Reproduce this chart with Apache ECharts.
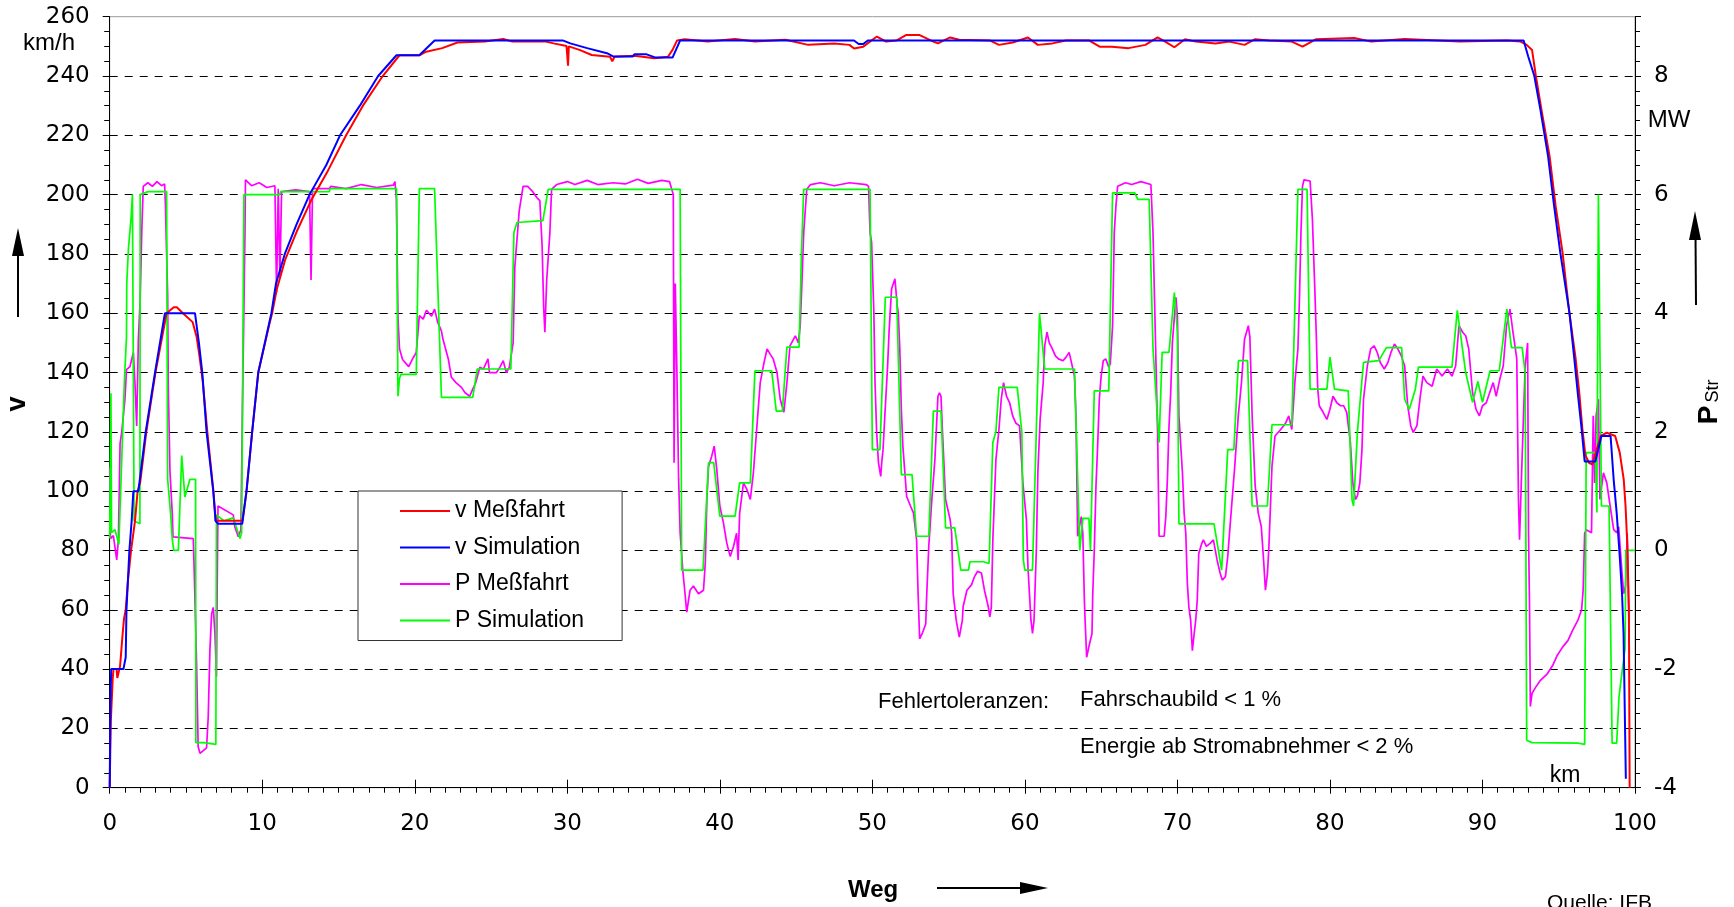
<!DOCTYPE html>
<html><head><meta charset="utf-8">
<script src="https://cdn.jsdelivr.net/npm/echarts/dist/echarts.min.js"></script>
<style>html,body{margin:0;padding:0;background:#fff}#c{width:1734px;height:907px}</style>
</head><body><div id="c"></div>
<script>
const FONT = '"Liberation Sans", Arial, sans-serif';
const NUMFONT = '"DejaVu Sans", "Liberation Sans", sans-serif';

const legendNames = ['v Meßfahrt', 'v Simulation', 'P Meßfahrt', 'P Simulation'];

// v Simulation [km, km/h]
const vSim = [[0,0],[0.05,30],[0.1,40],[0.9,40],[1.05,44],[1.1,60],[1.29,80],[1.44,90],[1.55,100],[1.88,100],[2.36,120],[2.97,140],[3.62,160],[5.59,160],[5.85,150],[6.07,140],[6.35,120],[6.79,100],[6.94,90],[7.1,89],[8.69,89],[8.97,100],[9.34,120],[9.74,140],[10.6,160],[10.9,170],[11.48,180],[12.25,190],[13.1,200],[14.2,210],[15.1,220],[16.4,230],[17.6,240],[18.8,247],[20.3,247],[21.3,252],[29.7,252],[30.2,251],[31.3,249.4],[32.6,247.7],[33.0,246.6],[34.3,246.6],[34.4,247.3],[35.2,247.3],[35.8,246.2],[36.9,246.2],[37.4,252],[48.8,252],[49.1,250.8],[49.4,250.8],[49.7,252],[92.7,252],[93.0,246.6],[93.4,240],[93.8,228.6],[94.3,213],[94.7,196],[95.1,180.5],[95.7,160.3],[96.0,145.7],[96.25,133],[96.5,121],[96.7,110],[97.4,110],[97.8,118.6],[98.4,118.6],[98.6,104],[98.8,92.6],[99.0,78],[99.15,65.5],[99.25,52],[99.4,3]];

// v Meßfahrt [km, km/h]
const vMess = [[0,0],[0.07,22],[0.2,37],[0.25,40],[0.45,40],[0.5,37],[0.63,37],[0.68,41],[0.85,52],[0.94,57],[1.05,60],[1.2,70],[1.4,80],[1.66,90],[1.83,100],[2.0,103],[2.4,120],[3.0,140],[3.73,160],[4.2,162],[4.4,162],[4.8,160],[5.44,157],[5.7,152],[5.9,145],[6.1,137],[6.4,120],[6.8,100],[6.95,90],[7.2,90],[8.7,90],[8.97,100],[9.34,120],[9.74,140],[10.5,157],[10.65,160],[10.95,168],[11.5,178],[12.3,188],[13.2,198],[14.3,208],[15.5,220],[16.6,230],[17.9,240],[19.0,247],[20.3,247],[20.75,248.2],[21.8,249.4],[22.8,251.3],[24.6,251.6],[25.8,252.5],[26.4,251.6],[28.6,251.6],[29.1,251],[29.95,250.1],[30.05,243.5],[30.1,250],[30.8,248.8],[31.6,247.1],[32.8,246.5],[32.95,245],[33.1,246.5],[34.4,246.8],[35.7,246],[36.6,246.5],[36.9,248.8],[37.2,252],[37.7,252.4],[39.2,251.6],[41.0,252.5],[42.3,251.6],[44.3,252.2],[45.8,250.5],[47.5,251],[48.5,250.5],[48.8,249.3],[49.4,249.9],[50.3,253.3],[50.9,251.6],[51.6,252],[52.2,253.8],[53.1,253.8],[54.0,251.6],[54.3,251],[55.1,253],[55.7,252.2],[57.7,252],[58.3,250.5],[59.2,251.3],[60.2,253],[60.85,250.5],[61.8,251],[62.7,252],[64.2,252],[64.9,249.9],[65.7,249.9],[66.8,249.4],[67.9,250.5],[68.7,253],[69.2,251.6],[69.8,249.7],[70.5,252.4],[71.2,251.6],[72.5,251],[73.4,251.6],[74.4,250.5],[75.1,252.4],[76.0,252],[77.5,251.6],[78.2,249.9],[79.1,252.4],[81.6,252.8],[82.7,251.6],[84.9,252.5],[87.1,252],[88.5,251.6],[91.6,252],[92.5,251.6],[92.9,250.5],[93.25,248.8],[93.5,240],[93.9,227.6],[94.4,213],[94.8,196],[95.25,180.5],[95.7,160],[96.1,145],[96.35,133],[96.55,121],[96.75,112],[97.0,109.5],[97.2,109],[97.75,118.6],[98.15,119.7],[98.7,118.6],[99.0,113],[99.26,104],[99.38,95],[99.5,81.4],[99.6,60],[99.65,0]];

// P Simulation [km, MW]
const pSim = [[0,0.2],[0.05,0.2],[0.08,2.65],[0.12,0.3],[0.35,0.35],[0.6,0.1],[0.68,0.1],[0.96,2.83],[1.1,3.6],[1.12,4.5],[1.23,5.1],[1.4,5.6],[1.49,6.0],[1.55,6.0],[1.6,0.5],[1.98,0.45],[2.0,6.0],[2.52,6.05],[3.73,6.05],[3.8,1.2],[4.0,0.6],[4.1,0.2],[4.2,0.0],[4.5,0.0],[4.72,1.6],[4.93,0.9],[5.26,1.2],[5.63,1.2],[5.65,-3.24],[6.18,-3.24],[6.2,-3.27],[6.96,-3.27],[7.0,0.6],[7.5,0.5],[8.1,0.55],[8.54,0.2],[8.65,0.3],[8.8,6.0],[11.16,6.0],[11.2,6.05],[14.4,6.05],[14.45,6.1],[18.8,6.1],[18.9,2.6],[19.0,2.9],[19.1,2.97],[20.1,2.97],[20.3,6.1],[21.3,6.1],[21.75,2.58],[23.8,2.58],[24.1,3.06],[26.3,3.06],[26.5,5.36],[26.7,5.53],[28.4,5.56],[28.75,6.09],[37.4,6.09],[37.5,-0.33],[38.9,-0.33],[39.26,1.48],[39.6,1.48],[40.0,0.58],[41.0,0.58],[41.3,1.14],[42.0,1.14],[42.3,3.03],[43.4,3.03],[43.7,2.35],[44.1,2.35],[44.4,3.43],[45.2,3.43],[45.35,5.0],[45.5,6.09],[49.85,6.09],[50.0,1.7],[50.5,1.7],[50.85,4.27],[51.6,4.27],[51.9,1.28],[52.6,1.28],[52.9,0.24],[53.7,0.24],[54.0,2.35],[54.5,2.35],[54.8,0.38],[55.4,0.38],[55.8,-0.33],[56.3,-0.33],[56.4,-0.19],[57.3,-0.19],[57.65,-0.22],[57.9,1.82],[58.1,2.0],[58.3,2.75],[59.5,2.75],[59.8,2.0],[59.9,-0.16],[60.0,-0.33],[60.5,-0.33],[60.96,4.0],[61.3,3.06],[63.25,3.06],[63.6,0.0],[63.8,0.54],[64.2,0.54],[64.3,0.0],[64.55,2.69],[65.5,2.69],[65.75,6.03],[67.2,6.03],[67.4,5.92],[68.15,5.92],[68.4,3.4],[68.8,1.82],[69.0,3.34],[69.45,3.34],[69.8,4.35],[70.0,3.68],[70.1,0.45],[72.4,0.45],[72.9,-0.33],[73.3,1.7],[73.7,1.7],[74.0,3.2],[74.6,3.2],[74.9,0.75],[75.9,0.75],[76.2,2.12],[77.5,2.12],[77.9,6.09],[78.5,6.09],[78.7,2.72],[79.8,2.72],[80.0,3.26],[80.3,2.72],[81.2,2.69],[81.45,0.85],[81.55,0.75],[81.8,1.99],[82.2,3.17],[83.2,3.2],[83.7,3.42],[84.7,3.42],[84.9,2.55],[85.2,2.38],[85.6,2.72],[85.8,3.09],[88.0,3.09],[88.35,4.05],[88.9,3.0],[89.35,2.5],[89.7,2.85],[90.0,2.5],[90.5,3.03],[91.1,3.03],[91.6,4.07],[91.9,3.42],[92.6,3.42],[92.8,3.0],[92.9,-3.2],[93.25,-3.24],[96.3,-3.25],[96.7,-3.27],[96.8,1.65],[97.4,1.65],[97.5,0.64],[97.6,6.0],[97.7,6.0],[97.8,0.75],[98.3,0.75],[98.5,-3.25],[98.8,-3.25],[98.95,-2.47],[99.15,-2.05],[99.35,-1.65],[99.4,0.0],[100,0.0]];

// P Meßfahrt [km, MW]
const pMess = [[0,1.4],[0.05,0.2],[0.24,0.25],[0.46,-0.16],[0.57,0.18],[0.68,1.8],[0.79,2.0],[1.0,2.55],[1.1,3.05],[1.33,3.1],[1.55,3.34],[1.66,2.8],[1.77,2.1],[1.88,3.56],[2.0,4.24],[2.1,5.36],[2.2,6.14],[2.5,6.2],[2.8,6.14],[3.1,6.22],[3.4,6.15],[3.6,6.18],[3.65,5.86],[3.8,4.3],[3.84,2.8],[3.95,1.34],[4.1,0.63],[4.15,0.23],[5.48,0.2],[5.55,-0.43],[5.7,-1.96],[5.8,-3.31],[5.92,-3.42],[6.35,-3.33],[6.46,-2.8],[6.57,-1.68],[6.68,-1.07],[6.79,-0.96],[6.9,-1.4],[7.0,-2.13],[7.05,-0.5],[7.1,0.75],[7.2,0.72],[8.1,0.6],[8.2,0.4],[8.43,0.23],[8.6,0.35],[8.7,2.33],[8.87,5.36],[8.9,6.25],[9.3,6.15],[9.8,6.2],[10.3,6.12],[10.83,6.15],[10.94,4.35],[11.05,6.1],[11.16,4.6],[11.27,6.05],[12.2,6.08],[13.1,6.05],[13.2,4.56],[13.3,6.1],[14.4,6.1],[14.5,6.14],[15.5,6.1],[16.5,6.17],[17.5,6.12],[18.6,6.16],[18.7,6.22],[18.8,5.92],[18.9,3.93],[19.0,3.4],[19.2,3.22],[19.6,3.1],[19.9,3.25],[20.1,3.34],[20.3,3.96],[20.55,3.9],[20.77,4.05],[21.1,3.95],[21.3,4.07],[21.5,3.85],[21.75,3.7],[21.85,3.56],[22.2,3.23],[22.4,2.92],[22.7,2.83],[23.06,2.75],[23.3,2.66],[23.6,2.6],[23.8,2.72],[24.0,2.83],[24.27,3.09],[24.5,3.06],[24.8,3.23],[24.9,3.0],[25.36,3.0],[25.6,3.1],[25.8,3.2],[26.0,3.0],[26.2,3.09],[26.45,3.5],[26.56,4.78],[26.85,5.73],[27.1,6.14],[27.4,6.14],[27.7,6.06],[28.0,5.95],[28.2,5.9],[28.35,5.13],[28.45,4.12],[28.53,3.68],[28.65,4.56],[28.86,5.36],[28.97,6.09],[29.3,6.17],[30.0,6.22],[30.5,6.17],[31.3,6.24],[32.0,6.17],[33.0,6.2],[33.8,6.18],[34.6,6.26],[35.3,6.19],[36.2,6.24],[36.7,6.22],[36.95,6.0],[37.0,1.48],[37.08,4.5],[37.18,3.11],[37.3,1.19],[37.4,0.29],[37.57,-0.33],[37.72,-0.73],[37.83,-1.04],[38.05,-0.67],[38.27,-0.6],[38.6,-0.73],[38.93,-0.67],[39.05,-0.2],[39.15,0.86],[39.26,1.42],[39.47,1.59],[39.63,1.76],[39.8,1.37],[40.0,0.75],[40.24,0.46],[40.46,0.12],[40.68,-0.1],[40.9,0.07],[41.1,0.29],[41.2,-0.16],[41.3,0.63],[41.55,1.14],[41.77,1.03],[42.0,0.86],[42.2,1.31],[42.4,1.99],[42.65,2.83],[42.9,3.17],[43.1,3.4],[43.3,3.31],[43.5,3.23],[43.75,3.0],[43.96,2.55],[44.2,2.33],[44.4,2.83],[44.6,3.45],[44.95,3.62],[45.15,3.5],[45.27,3.79],[45.38,4.5],[45.5,5.36],[45.7,6.09],[45.95,6.17],[46.6,6.2],[47.5,6.15],[48.5,6.2],[49.6,6.17],[49.75,6.14],[49.85,5.36],[49.95,5.2],[50.1,4.0],[50.17,2.88],[50.28,2.0],[50.4,1.48],[50.55,1.25],[50.62,1.5],[50.7,1.7],[50.83,2.33],[51.0,3.11],[51.1,3.71],[51.26,4.41],[51.48,4.58],[51.63,4.13],[51.7,4.0],[51.8,3.4],[51.9,2.38],[52.0,1.76],[52.25,0.91],[52.5,0.75],[52.7,0.63],[52.9,0.18],[53.0,-0.73],[53.1,-1.49],[53.3,-1.38],[53.5,-1.24],[53.55,-0.84],[53.7,0.07],[53.9,0.86],[54.1,1.53],[54.3,2.6],[54.4,2.66],[54.5,2.6],[54.6,1.99],[54.8,0.86],[55.1,0.52],[55.2,0.29],[55.3,-0.73],[55.4,-0.95],[55.5,-1.18],[55.7,-1.46],[55.9,-1.18],[55.95,-0.95],[56.2,-0.67],[56.5,-0.58],[56.7,-0.44],[56.9,-0.35],[57.15,-0.38],[57.35,-0.67],[57.6,-0.95],[57.7,-1.12],[57.8,-0.96],[57.9,0.18],[58.1,1.53],[58.3,2.04],[58.45,2.55],[58.6,2.83],[58.8,2.6],[59.0,2.49],[59.2,2.27],[59.4,2.15],[59.65,2.1],[59.87,1.14],[60.1,0.52],[60.2,-0.27],[60.3,-0.73],[60.4,-1.18],[60.5,-1.4],[60.6,-1.18],[60.75,0.0],[60.85,1.31],[61.0,2.21],[61.2,2.83],[61.3,3.45],[61.45,3.68],[61.6,3.5],[61.8,3.4],[62.0,3.28],[62.2,3.23],[62.5,3.2],[62.7,3.26],[62.9,3.34],[63.0,3.23],[63.25,2.94],[63.35,2.27],[63.46,0.24],[63.57,0.24],[63.7,0.57],[63.8,0.29],[63.9,-0.84],[63.95,-1.18],[64.05,-1.8],[64.2,-1.62],[64.4,-1.4],[64.45,-0.73],[64.55,0.0],[64.66,1.08],[64.77,1.76],[64.88,2.55],[65.0,2.94],[65.14,3.2],[65.3,3.23],[65.5,3.09],[65.6,3.15],[65.75,3.79],[65.86,5.36],[65.97,5.81],[66.08,6.14],[66.6,6.2],[67.0,6.17],[67.6,6.22],[68.26,6.17],[68.3,6.2],[68.4,5.36],[68.5,4.24],[68.6,3.11],[68.7,1.99],[68.8,0.24],[69.13,0.24],[69.24,0.57],[69.35,1.25],[69.45,2.1],[69.56,2.66],[69.67,3.5],[69.9,4.27],[70.0,3.96],[70.1,2.27],[70.33,1.31],[70.44,0.63],[70.55,0.29],[70.65,-0.55],[70.75,-0.95],[70.87,-1.18],[70.98,-1.69],[71.1,-1.4],[71.2,-1.18],[71.3,-0.84],[71.4,-0.05],[71.6,0.12],[71.7,0.18],[71.9,0.07],[72.14,0.12],[72.36,0.18],[72.6,-0.16],[72.8,-0.38],[72.94,-0.5],[73.15,-0.44],[73.3,-0.1],[73.5,0.57],[73.76,1.42],[73.99,2.27],[74.2,2.83],[74.4,3.56],[74.65,3.79],[74.75,3.6],[74.9,2.27],[75.1,1.08],[75.3,0.63],[75.5,0.4],[75.65,-0.16],[75.77,-0.67],[75.9,-0.4],[76.0,0.07],[76.2,1.42],[76.4,1.93],[76.77,2.04],[77.1,2.15],[77.3,2.27],[77.5,2.04],[77.7,2.83],[77.9,3.4],[78.0,4.24],[78.1,5.36],[78.2,6.14],[78.3,6.25],[78.7,6.23],[78.85,5.59],[79.0,4.47],[79.1,3.68],[79.2,2.72],[79.3,2.44],[79.55,2.33],[79.8,2.21],[80.0,2.38],[80.2,2.6],[80.45,2.49],[80.7,2.44],[80.9,2.44],[81.1,2.33],[81.34,1.82],[81.5,1.14],[81.67,0.86],[81.8,0.92],[81.96,1.14],[82.1,1.7],[82.2,2.55],[82.45,3.11],[82.67,3.4],[82.9,3.45],[83.1,3.34],[83.3,3.17],[83.56,3.06],[83.8,3.17],[84.0,3.34],[84.23,3.48],[84.45,3.4],[84.68,3.28],[84.9,3.11],[85.1,2.44],[85.3,2.1],[85.46,1.99],[85.7,2.1],[85.9,2.55],[86.1,2.94],[86.35,2.83],[86.7,2.77],[87.0,3.06],[87.35,2.94],[87.7,3.06],[88.0,2.94],[88.24,3.11],[88.46,3.79],[88.7,3.68],[88.9,3.62],[89.1,3.4],[89.35,2.66],[89.58,2.38],[89.8,2.27],[90.0,2.44],[90.25,2.49],[90.47,2.66],[90.7,2.83],[90.9,2.6],[91.14,2.89],[91.36,3.11],[91.58,3.79],[91.8,4.07],[92.0,3.68],[92.25,3.23],[92.36,0.86],[92.43,0.18],[92.58,1.42],[92.8,3.11],[92.96,3.5],[93.02,0.29],[93.08,-0.85],[93.14,-2.63],[93.25,-2.41],[93.5,-2.3],[93.8,-2.19],[94.25,-2.08],[94.6,-1.94],[94.9,-1.77],[95.25,-1.63],[95.6,-1.52],[95.9,-1.35],[96.25,-1.18],[96.5,-1.0],[96.6,-0.67],[96.7,0.29],[96.8,0.35],[97.15,0.3],[97.26,2.27],[97.35,1.14],[97.45,2.27],[97.6,2.55],[97.7,0.86],[97.93,1.31],[98.15,1.14],[98.37,0.75],[98.6,0.35],[98.8,0.3],[98.93,0.4],[99.15,-0.38],[99.26,-0.73],[99.38,-0.6],[99.49,0.29],[99.55,-0.5],[99.6,-1.2]];

const chart = echarts.init(document.getElementById('c'), null, {renderer: 'canvas'});
const txt = (x, y, text, extra) => Object.assign({type: 'text', x: x, y: y, z: 100,
  style: Object.assign({text: text, fontSize: 22, fontFamily: FONT, fill: '#000', align: 'left', verticalAlign: 'middle'}, extra || {})});
const rtxt = (x, y, text, extra) => ({type: 'text', x: x, y: y, z: 100, rotation: Math.PI / 2,
  style: Object.assign({text: text, fontSize: 22, fontFamily: FONT, fill: '#000', align: 'center', verticalAlign: 'middle'}, extra || {})});
const tickLab = {fontSize: 23, fontFamily: NUMFONT, color: '#000'};
const blk = {color: '#000', width: 1};

chart.setOption({
  animation: false,
  backgroundColor: '#fff',
  grid: {left: 109.7, right: 99, top: 16.7, bottom: 119.3, show: true, borderColor: '#999', borderWidth: 1, outerBoundsMode: 'none'},
  legend: {
    data: legendNames, orient: 'vertical', left: 358, top: 491,
    icon: 'rect', itemWidth: 50, itemHeight: 2, itemGap: 12.5, padding: [8, 38, 8, 42],
    backgroundColor: '#fff', borderColor: '#333', borderWidth: 1, borderRadius: 0,
    textStyle: {fontSize: 23, fontFamily: FONT, color: '#000', lineHeight: 24},
    selectedMode: false, z: 10
  },
  xAxis: [
    {type: 'value', min: 0, max: 100, interval: 10,
     axisLine: {show: true, onZero: false, lineStyle: blk},
     axisTick: {show: true, length: 6, lineStyle: blk},
     minorTick: {show: true, splitNumber: 10, length: 5, lineStyle: blk},
     splitLine: {show: false},
     axisLabel: Object.assign({margin: 25}, tickLab)},
    {type: 'value', min: 0, max: 100, interval: 10, position: 'bottom',
     axisLine: {show: false, onZero: false},
     axisTick: {show: true, inside: true, length: 8, lineStyle: blk},
     axisLabel: {show: false}, splitLine: {show: false}}
  ],
  yAxis: [
    {type: 'value', min: 0, max: 260, interval: 20, position: 'left',
     axisLine: {show: true, onZero: false, lineStyle: blk},
     axisTick: {show: true, length: 7, lineStyle: blk},
     minorTick: {show: true, splitNumber: 4, length: 5.5, lineStyle: blk},
     splitLine: {show: true, showMinLine: false, showMaxLine: false, lineStyle: {color: '#000', width: 1, type: [8, 7]}},
     axisLabel: Object.assign({margin: 20}, tickLab)},
    {type: 'value', min: -4, max: 9, interval: 1, position: 'right',
     axisLine: {show: true, onZero: false, lineStyle: blk},
     axisTick: {show: true, length: 6, lineStyle: blk},
     minorTick: {show: true, splitNumber: 4, length: 5, lineStyle: blk},
     splitLine: {show: false},
     axisLabel: Object.assign({margin: 19, formatter: function (v) { return (Math.round(v) % 2 === 0 && v <= 8) ? String(v) : ''; }}, tickLab)}
  ],
  series: [
    {name: 'P Meßfahrt', type: 'line', yAxisIndex: 1, data: pMess, symbol: 'none', showSymbol: false, z: 2,
     lineStyle: {color: '#ff00ff', width: 1.7}, itemStyle: {color: '#ff00ff'}},
    {name: 'P Simulation', type: 'line', yAxisIndex: 1, data: pSim, symbol: 'none', showSymbol: false, z: 3,
     lineStyle: {color: '#00ff00', width: 1.7}, itemStyle: {color: '#00ff00'}},
    {name: 'v Meßfahrt', type: 'line', yAxisIndex: 0, data: vMess, symbol: 'none', showSymbol: false, z: 4,
     lineStyle: {color: '#ff0000', width: 2}, itemStyle: {color: '#ff0000'}},
    {name: 'v Simulation', type: 'line', yAxisIndex: 0, data: vSim, symbol: 'none', showSymbol: false, z: 5,
     lineStyle: {color: '#0000ff', width: 2}, itemStyle: {color: '#0000ff'}}
  ],
  graphic: {elements: [
    txt(23, 43, 'km/h', {fontSize: 24}),
    txt(1669, 120, 'MW', {fontSize: 24, align: 'center'}),
    txt(1565, 776, 'km', {fontSize: 23, align: 'center'}),
    txt(878, 702, 'Fehlertoleranzen:', {fontSize: 22}),
    txt(1080, 700, 'Fahrschaubild < 1 %', {fontSize: 22}),
    txt(1080, 747, 'Energie ab Stromabnehmer < 2 %', {fontSize: 22}),
    txt(1547, 903, 'Quelle: IFB', {fontSize: 21}),
    txt(848, 890, 'Weg', {fontSize: 24, fontWeight: 'bold'}),
    rtxt(18, 404, 'v', {fontSize: 27, fontWeight: 'bold'}),
    rtxt(1709, 415, 'P', {fontSize: 28, fontWeight: 'bold'}),
    rtxt(1713, 391, 'Str', {fontSize: 18}),
    {type: 'line', z: 100, shape: {x1: 937, y1: 888, x2: 1025, y2: 888}, style: {stroke: '#000', lineWidth: 2}},
    {type: 'polygon', z: 100, shape: {points: [[1048, 888], [1020, 882], [1020, 894]]}, style: {fill: '#000'}},
    {type: 'line', z: 100, shape: {x1: 18, y1: 317, x2: 18, y2: 250}, style: {stroke: '#000', lineWidth: 2}},
    {type: 'polygon', z: 100, shape: {points: [[18, 228], [12, 256], [24, 256]]}, style: {fill: '#000'}},
    {type: 'line', z: 100, shape: {x1: 1696, y1: 305, x2: 1695.5, y2: 235}, style: {stroke: '#000', lineWidth: 2}},
    {type: 'polygon', z: 100, shape: {points: [[1695, 211], [1689, 240], [1701, 240]]}, style: {fill: '#000'}}
  ]}
});
</script>
</body></html>
